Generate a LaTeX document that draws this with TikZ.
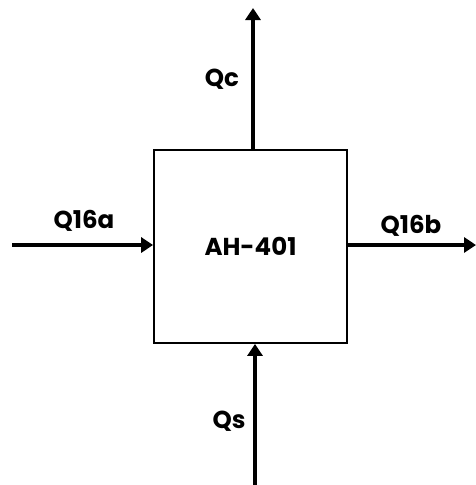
\documentclass[tikz,border=0pt]{standalone}
\usepackage{fontspec}
\setmainfont{Poppins}
\usetikzlibrary{arrows.meta}
\begin{document}
\begin{tikzpicture}[x=1pt, y=-1pt, every node/.append style={font=\bfseries\fontsize{24.5}{28}\selectfont},
  flow/.style={line width=3.6pt, -{Triangle[length=12pt, width=15pt]}}]
  \useasboundingbox[fill=white] (0,0) rectangle (476,485);
  \node[draw, line width=1.8pt, minimum width=193pt, minimum height=193pt, inner sep=0pt] (ah) at (250.5,246.5) {AH-401};
  \coordinate (inA) at (12,245);
  \coordinate (outB) at (476,245);
  \coordinate (outC) at (253,8);
  \coordinate (inS) at (255,485);
  \draw[flow] (inA) -- (inA -| ah.west);
  \draw[flow] (ah.east |- outB) -- (outB);
  \draw[flow] (outC |- ah.north) -- (outC);
  \draw[flow] (inS) -- (inS |- ah.south);
  \node (q16a) at (84,221) {Q16a};
  \node (q16b) at (411,226) {Q16b};
  \node (qc) at (222,79) {Qc};
  \node (qs) at (229,421) {Qs};
\end{tikzpicture}
\end{document}
